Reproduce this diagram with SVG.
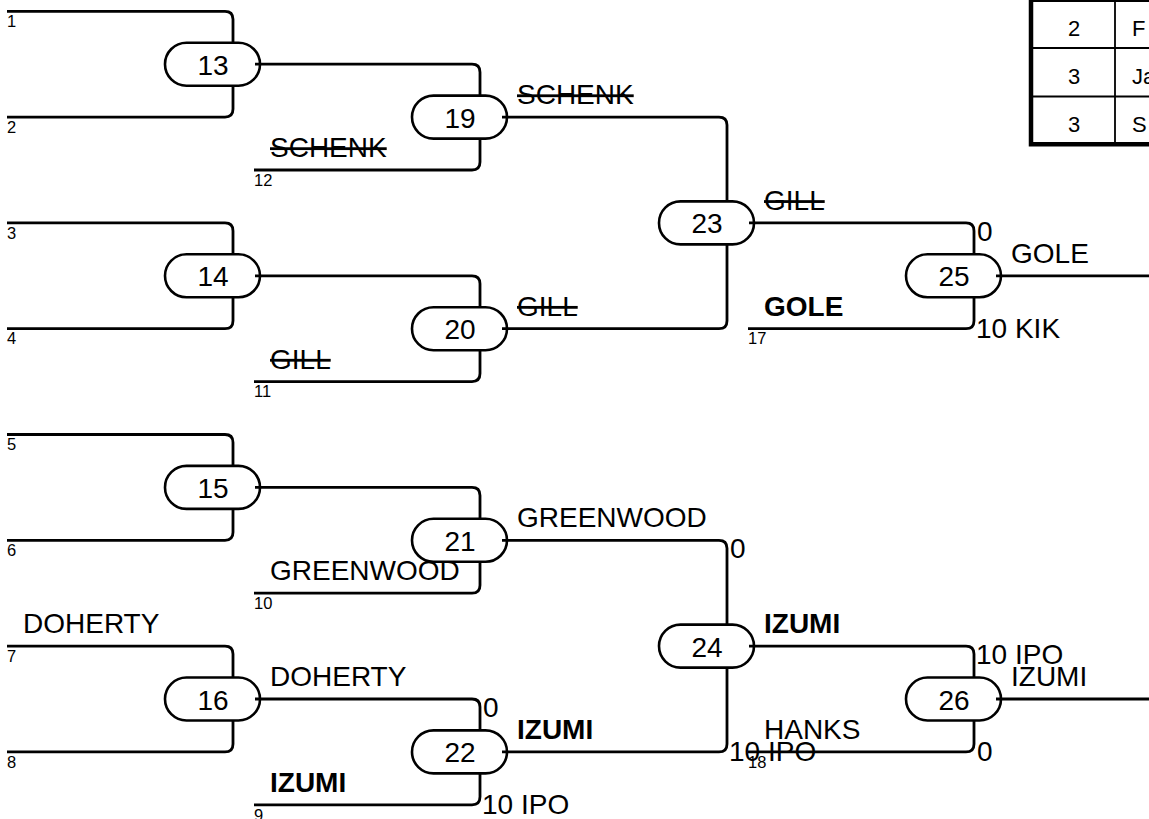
<svg xmlns="http://www.w3.org/2000/svg" width="1149" height="819" viewBox="0 0 1149 819">
<style>
text{font-family:"Liberation Sans",Arial,sans-serif;fill:#000}
.nm{font-size:28px}
.b{font-weight:bold}
.st{text-decoration:line-through}
.sm{font-size:16.5px}
.num{font-size:28px;text-anchor:middle}
.pill{fill:#fff;stroke:#000;stroke-width:2.6}
.cn path{fill:none;stroke:#000;stroke-width:2.8}
.tb{font-size:22px}
</style>
<rect width="1149" height="819" fill="#fff"/>
<g id="table">
<path d="M1029 1 H1149 M1029 48 H1149 M1029 96.5 H1149 M1115 0 V142" stroke="#000" stroke-width="1.8" fill="none"/>
<path d="M1031 0 V146.5 M1029 144.3 H1149" stroke="#000" stroke-width="4.5" fill="none"/>
<text class="tb" x="1074" y="35.5" text-anchor="middle">2</text>
<text class="tb" x="1074" y="83.5" text-anchor="middle">3</text>
<text class="tb" x="1074" y="131.5" text-anchor="middle">3</text>
<text class="tb" x="1132" y="35.5">F</text>
<text class="tb" x="1132" y="83.5">Ja</text>
<text class="tb" x="1132" y="131.5">S</text>
</g>
<g id="n13"><rect class="pill" x="165" y="42.7" width="95" height="43" rx="21.5"/><text class="num" x="213" y="74.7">13</text></g>
<g id="n14"><rect class="pill" x="165" y="254.3" width="95" height="43" rx="21.5"/><text class="num" x="213" y="286.3">14</text></g>
<g id="n15"><rect class="pill" x="165" y="465.9" width="95" height="43" rx="21.5"/><text class="num" x="213" y="497.9">15</text></g>
<g id="n16"><rect class="pill" x="165" y="677.5" width="95" height="43" rx="21.5"/><text class="num" x="213" y="709.5">16</text></g>
<g id="n19"><rect class="pill" x="412" y="95.6" width="95" height="43" rx="21.5"/><text class="num" x="460" y="127.6">19</text></g>
<g id="n20"><rect class="pill" x="412" y="307.2" width="95" height="43" rx="21.5"/><text class="num" x="460" y="339.2">20</text></g>
<g id="n21"><rect class="pill" x="412" y="518.8" width="95" height="43" rx="21.5"/><text class="num" x="460" y="550.8">21</text></g>
<g id="n22"><rect class="pill" x="412" y="730.4" width="95" height="43" rx="21.5"/><text class="num" x="460" y="762.4">22</text></g>
<g id="n23"><rect class="pill" x="659" y="201.4" width="95" height="43" rx="21.5"/><text class="num" x="707" y="233.4">23</text></g>
<g id="n24"><rect class="pill" x="659" y="624.6" width="95" height="43" rx="21.5"/><text class="num" x="707" y="656.6">24</text></g>
<g id="n25"><rect class="pill" x="906" y="254.3" width="95" height="43" rx="21.5"/><text class="num" x="954" y="286.3">25</text></g>
<g id="n26"><rect class="pill" x="906" y="677.5" width="95" height="43" rx="21.5"/><text class="num" x="954" y="709.5">26</text></g>
<g id="connectors" class="cn">
<path d="M7 11.3 H225 Q233 11.3 233 19.3 V42.7 M7 117.1 H225 Q233 117.1 233 109.1 V85.7"/>
<path d="M7 222.9 H225 Q233 222.9 233 230.9 V254.3 M7 328.7 H225 Q233 328.7 233 320.7 V297.3"/>
<path d="M7 434.5 H225 Q233 434.5 233 442.5 V465.9 M7 540.3 H225 Q233 540.3 233 532.3 V508.9"/>
<path d="M7 646.1 H225 Q233 646.1 233 654.1 V677.5 M7 751.9 H225 Q233 751.9 233 743.9 V720.5"/>
<path d="M255 64.2 H472 Q480 64.2 480 72.2 V95.6 M254 170 H472 Q480 170 480 162 V138.6"/>
<path d="M255 275.8 H472 Q480 275.8 480 283.8 V307.2 M254 381.6 H472 Q480 381.6 480 373.6 V350.2"/>
<path d="M255 487.4 H472 Q480 487.4 480 495.4 V518.8 M254 593.2 H472 Q480 593.2 480 585.2 V561.8"/>
<path d="M255 699 H472 Q480 699 480 707 V730.4 M254 804.8 H472 Q480 804.8 480 796.8 V773.4"/>
<path d="M502 117.1 H719 Q727 117.1 727 125.1 V201.4 M502 328.7 H719 Q727 328.7 727 320.7 V244.4"/>
<path d="M502 540.3 H719 Q727 540.3 727 548.3 V624.6 M502 751.9 H719 Q727 751.9 727 743.9 V667.6"/>
<path d="M749 222.9 H966 Q974 222.9 974 230.9 V254.3 M748 328.7 H966 Q974 328.7 974 320.7 V297.3"/>
<path d="M749 646.1 H966 Q974 646.1 974 654.1 V677.5 M748 751.9 H966 Q974 751.9 974 743.9 V720.5"/>
<path d="M996 275.8 H1149 M996 699 H1149"/>
</g>
<g id="seeds" class="sm">
<text class="sm" x="7" y="27">1</text>
<text class="sm" x="7" y="132.8">2</text>
<text class="sm" x="254" y="185.7">12</text>
<text class="sm" x="7" y="238.6">3</text>
<text class="sm" x="7" y="344.4">4</text>
<text class="sm" x="254" y="397.3">11</text>
<text class="sm" x="7" y="450.2">5</text>
<text class="sm" x="7" y="556">6</text>
<text class="sm" x="254" y="608.9">10</text>
<text class="sm" x="7" y="661.8">7</text>
<text class="sm" x="7" y="767.6">8</text>
<text class="sm" x="254" y="820.5">9</text>
<text class="sm" x="748" y="344.4">17</text>
<text class="sm" x="748" y="767.6">18</text>
</g>
<g id="names">
<text class="nm st" x="270" y="157">SCHENK</text>
<text class="nm st" x="517" y="104.1">SCHENK</text>
<text class="nm st" x="270" y="368.6">GILL</text>
<text class="nm st" x="517" y="315.7">GILL</text>
<text class="nm st" x="764" y="209.9">GILL</text>
<text class="nm b" x="764" y="315.7">GOLE</text>
<text class="nm" x="1011" y="262.8">GOLE</text>
<text class="nm" x="517" y="527.3">GREENWOOD</text>
<text class="nm" x="270" y="580.2">GREENWOOD</text>
<text class="nm" x="23" y="633.1">DOHERTY</text>
<text class="nm" x="270" y="686">DOHERTY</text>
<text class="nm b" x="270" y="791.8">IZUMI</text>
<text class="nm b" x="517" y="738.9">IZUMI</text>
<text class="nm b" x="764" y="633.1">IZUMI</text>
<text class="nm" x="764" y="738.9">HANKS</text>
<text class="nm" x="1011" y="686">IZUMI</text>
</g>
<g id="scores">
<text class="nm" x="483" y="717">0</text>
<text class="nm" x="482" y="813.8">10 IPO</text>
<text class="nm" x="730" y="558.3">0</text>
<text class="nm" x="729" y="760.9">10 IPO</text>
<text class="nm" x="977" y="240.9">0</text>
<text class="nm" x="976" y="337.7">10 KIK</text>
<text class="nm" x="976" y="664.1">10 IPO</text>
<text class="nm" x="977" y="760.9">0</text>
</g>
</svg>
